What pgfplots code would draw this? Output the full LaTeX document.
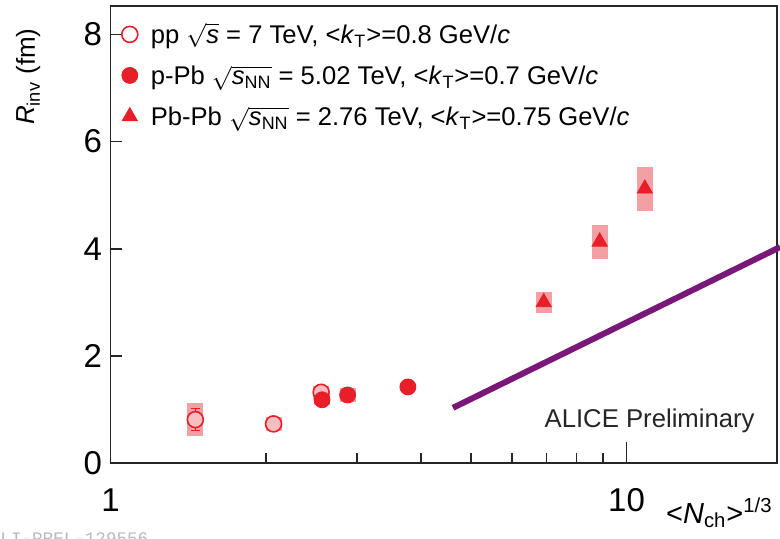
\documentclass[border=0pt]{standalone}
\usepackage{amsmath}
\usepackage{fontspec}
\setmainfont{Liberation Sans}
\newfontfamily\monofont{Liberation Mono}
\usepackage{pgfplots}
\pgfplotsset{compat=1.18}
\definecolor{aliceRed}{RGB}{232,30,40}
\definecolor{boxRed}{RGB}{243,160,165}
\definecolor{purpleLine}{RGB}{122,24,122}
\pgfplotsset{markleg/.style={legend image code/.code={\draw[##1, mark repeat=2, mark phase=2] plot coordinates {(0bp,0bp) (5bp,0bp) (10bp,0bp)};}}}
\begin{document}
\begin{tikzpicture}
\useasboundingbox (-55.25bp,-38bp) rectangle (334.75bp,231.5bp);
\begin{axis}[
  at={(0,0)}, anchor=south west,
  scale only axis, width=333.25bp, height=228.5bp,
  xmode=log, xmin=1, xmax=19.57, ymin=0, ymax=8.53,
  clip=false,
  xtick={1,10}, xticklabels={1,10},
  minor xtick={2,3,4,5,6,7,8,9},
  extra x ticks={10}, extra x tick labels={},
  extra x tick style={/pgfplots/major tick length=10.5bp},
  ytick={0,2,4,6,8},
  tick pos=left, tick align=inside,
  major tick length=6bp, minor tick length=5bp,
  axis line style={line width=0.9bp, black!85},
  every tick/.style={black!85, line width=0.8bp},
  /pgf/number format/assume math mode=true,
  yticklabel style={font=\fontsize{16.5bp}{19bp}\selectfont, inner sep=0pt, anchor=east, xshift=-4bp},
  xticklabel style={font=\fontsize{16.5bp}{19bp}\selectfont, inner sep=0pt, anchor=north, yshift=-12.5bp},
  xlabel={<\textit{N}\textsubscript{ch}>\textsuperscript{1/3}},
  x label style={at={(rel axis cs:1,0)}, anchor=base east, xshift=-2bp, yshift=-30bp, inner sep=0pt, font=\fontsize{14.5bp}{17bp}\selectfont},
  ylabel={\textit{R}\textsubscript{inv} (fm)},
  y label style={at={([xshift=-37.75bp,yshift=-11bp]rel axis cs:0,1)}, anchor=base east, inner sep=0pt, font=\fontsize{13bp}{16bp}\selectfont},
  legend cell align=left,
  legend style={draw=none, fill=none, at={(rel axis cs:0,1)}, anchor=north west,
    xshift=5.45bp, yshift=-9.4bp, inner xsep=0pt, inner ysep=0pt,
    row sep=11.3bp, column sep=6.5bp,
    nodes={inner sep=0pt, text height=9.2bp, text depth=0pt},
    font=\fontsize{12.8bp}{15bp}\selectfont},
]
% systematic boxes
\addplot[forget plot, only marks, mark=none,
  error bars/.cd, y dir=both, y explicit, error mark=none,
  error bar style={line width=8bp, boxRed}]
  coordinates {
  (1.46,0.81) +- (0,0.31)
  (2.07,0.73) +- (0,0.13)
  (2.56,1.32) +- (0,0.12)
  (2.57,1.18) +- (0,0.10)
  (2.88,1.27) +- (0,0.13)
  (3.77,1.42) +- (0,0.05)
  (6.91,3.00) +- (0,0.20)
  (8.87,4.13) +- (0,0.32)
  (10.85,5.12) +- (0,0.41)
  };
% statistical error of the first pp point
\addplot[forget plot, only marks, mark=none,
  error bars/.cd, y dir=both, y explicit,
  error mark options={rotate=90, mark size=2.2bp, line width=0.6bp, aliceRed},
  error bar style={line width=0.6bp, aliceRed}]
  coordinates {(1.46,0.81) +- (0,0.20)};
% purple line
\addplot[forget plot, purpleLine, line width=3bp, mark=none]
  coordinates {(4.61,1.03) (19.84,4.03)};
% pp
\addplot[only marks, mark=*, mark size=4bp,
  mark options={draw=aliceRed, fill=boxRed!70, line width=0.8bp}, markleg,
  legend image post style={mark options={draw=aliceRed, fill=white, line width=0.8bp}}]
  coordinates {(1.46,0.81) (2.07,0.73) (2.56,1.32)};
\addlegendentry{pp $\sqrt{\textit{s}}$ = 7 TeV, <\textit{k}\textsubscript{T}>=0.8 GeV/\textit{c}}
% p-Pb
\addplot[only marks, mark=*, aliceRed, mark size=4bp, markleg]
  coordinates {(2.57,1.18) (2.88,1.27) (3.77,1.42)};
\addlegendentry{p-Pb $\sqrt{\textit{s}\textsubscript{NN}}$ = 5.02 TeV, <\textit{k}\textsubscript{T}>=0.7 GeV/\textit{c}}
% Pb-Pb
\addplot[only marks, mark=triangle*, aliceRed, mark size=4.4bp, markleg]
  coordinates {(6.91,3.00) (8.87,4.13) (10.85,5.12)};
\addlegendentry{Pb-Pb $\sqrt{\textit{s}\textsubscript{NN}}$ = 2.76 TeV, <\textit{k}\textsubscript{T}>=0.75 GeV/\textit{c}}
\node[anchor=base east, inner sep=0pt, xshift=-11bp, yshift=18bp, font=\fontsize{12.85bp}{15bp}\selectfont, text=black!85]
  at (rel axis cs:1,0) {ALICE Preliminary};
\end{axis}
\node[overlay, anchor=north west, inner sep=0pt, text=gray!55, font=\monofont\fontsize{8.8bp}{10bp}\selectfont]
  at (-60.5bp,-34.5bp) {ALI-PREL-129556};
\end{tikzpicture}
\end{document}
